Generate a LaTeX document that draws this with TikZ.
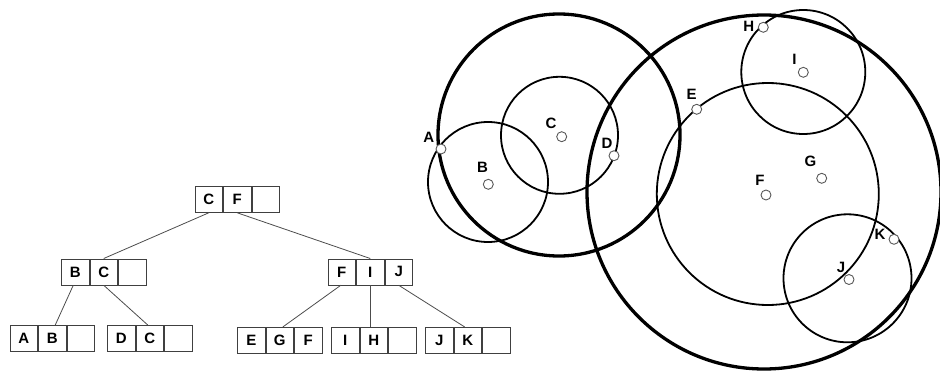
\documentclass[tikz,border=0pt]{standalone}
\usepackage{fontspec}
\setmainfont{Liberation Sans}
\newcommand\btreebox[6]{%
  \node[cell] (#1-1) at (#2,#3) {#4};
  \node[cell] (#1-2) at (#1-1.north east) {#5};
  \node[cell] (#1-3) at (#1-2.north east) {#6};}
\begin{document}
\begin{tikzpicture}[x=1pt,y=-1pt,
  cell/.style={draw=black!75, line width=0.8pt, minimum width=27.7pt, minimum height=26pt,
    inner sep=0pt, anchor=north west, font=\fontsize{15}{17}\selectfont\bfseries},
  link/.style={draw=black!70, line width=0.8pt},
  thickc/.style={line width=3.3pt},
  thinc/.style={line width=1.8pt},
  pt/.style={circle, draw=black!65, fill=white, minimum size=10pt, inner sep=0pt, line width=0.9pt},
  lab/.style={inner sep=0pt, font=\fontsize{15}{17}\selectfont\bfseries}]
\useasboundingbox (0,0) rectangle (940,372);
% ---- tree ----
\btreebox{root}{194.5}{186}{C}{F}{}
\btreebox{bc}{61}{258.5}{B}{C}{}
\btreebox{fij}{327.5}{258.5}{F}{I}{J}
\btreebox{ab}{9.5}{325}{A}{B}{}
\btreebox{dc}{107}{325}{D}{C}{}
\btreebox{egf}{237}{327}{E}{G}{F}
\btreebox{ih}{331}{327}{I}{H}{}
\btreebox{jk}{425}{327}{J}{K}{}
\draw[link] (root-1.south) -- (bc-2.north);
\draw[link] (root-2.south) -- (fij-2.north);
\draw[link] ([xshift=-2pt]bc-1.south) -- ([xshift=3pt]ab-2.north);
\draw[link] (bc-2.south) -- ([xshift=-2pt]dc-2.north);
\draw[link] ([xshift=-1pt]fij-1.south) -- ([xshift=3pt]egf-2.north);
\draw[link] (fij-2.south) -- (fij-2.south |- ih-2.north);
\draw[link] (fij-3.south) -- ([xshift=-3pt]jk-2.north);
% ---- circles ----
\draw[thickc] (559,135) circle[radius=121];
\draw[thickc] (764,192) circle[radius=177];
\draw[thinc] (488,182) circle[radius=60];
\draw[thinc] (559.5,135.3) circle[radius=58.5];
\draw[thinc] (767.8,194) circle[radius=111];
\draw[thinc] (803.3,72) circle[radius=62];
\draw[thinc] (847.5,278.3) circle[radius=64];
% ---- points ----
\node[pt] (pA) at (441,149) {};
\node[pt] (pB) at (488.3,184.3) {};
\node[pt] (pC) at (561.7,136.7) {};
\node[pt] (pD) at (614,155.7) {};
\node[pt] (pE) at (696.7,109.3) {};
\node[pt] (pF) at (766,195) {};
\node[pt] (pG) at (821.7,178.3) {};
\node[pt] (pH) at (763.3,27.3) {};
\node[pt] (pI) at (803.3,72.3) {};
\node[pt] (pJ) at (849,279.5) {};
\node[pt] (pK) at (894,239.3) {};
% ---- labels ----
\node[lab] (lA) at (428.7,137) {A};
\node[lab] (lB) at (482.5,167.5) {B};
\node[lab] (lC) at (551,123) {C};
\node[lab] (lD) at (607,143.7) {D};
\node[lab] (lE) at (691.7,94) {E};
\node[lab] (lF) at (760,180.5) {F};
\node[lab] (lG) at (810.5,161.7) {G};
\node[lab] (lH) at (748.7,26) {H};
\node[lab] (lI) at (794.5,59.3) {I};
\node[lab] (lJ) at (841,267) {J};
\node[lab] (lK) at (880,234.5) {K};
\end{tikzpicture}
\end{document}
